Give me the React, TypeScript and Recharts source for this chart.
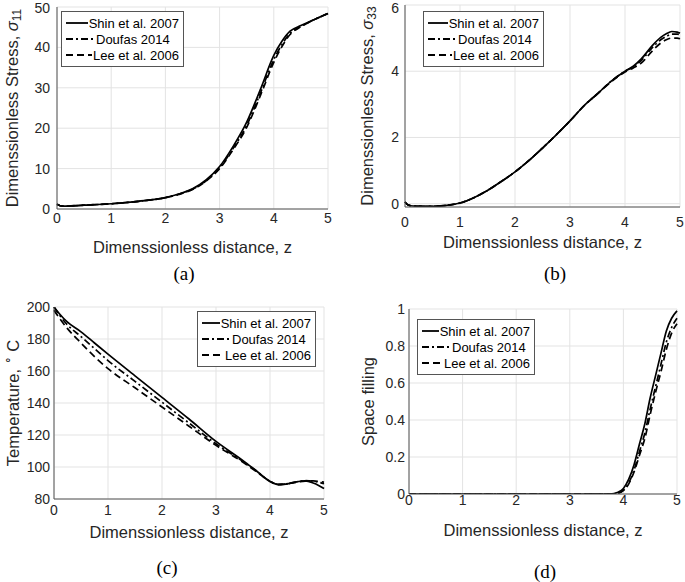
import React from 'react'
import { LineChart, Line, XAxis, YAxis, CartesianGrid, Legend } from 'recharts'

// (a) sigma_11 along the spinline
const zA = [0, 0.1, 0.5, 1, 1.5, 2, 2.25, 2.5, 2.75, 3, 3.25, 3.5, 3.75, 4, 4.15, 4.3, 4.5, 4.75, 5]
const shinA = [1.2, 0.7, 0.95, 1.3, 1.9, 2.8, 3.7, 5.0, 7.2, 10.5, 15.5, 21.5, 29.5, 38, 41.5, 44, 45.4, 46.9, 48.4]
const doufasA = [1.2, 0.7, 0.95, 1.3, 1.9, 2.8, 3.7, 4.9, 7.0, 10.2, 15.0, 20.7, 28.6, 37, 40.7, 43.5, 45.2, 46.9, 48.4]
const leeA = [1.2, 0.7, 0.95, 1.3, 1.9, 2.8, 3.6, 4.8, 6.9, 10.0, 14.7, 20.2, 28.0, 36.3, 40.2, 43.2, 45.1, 46.9, 48.4]

// (b) sigma_33
const zB = [0, 0.05, 0.15, 0.5, 0.75, 1, 1.25, 1.5, 1.75, 2, 2.25, 2.5, 2.75, 3, 3.25, 3.5, 3.75, 4, 4.15, 4.3, 4.5, 4.65, 4.75, 4.85, 4.95, 5]
const shinB = [0.05, -0.03, -0.07, -0.08, -0.05, 0.02, 0.18, 0.4, 0.67, 0.96, 1.3, 1.68, 2.08, 2.5, 2.95, 3.32, 3.7, 4.0, 4.15, 4.38, 4.78, 5.02, 5.13, 5.2, 5.18, 5.15]
const doufasB = [0.05, -0.03, -0.07, -0.08, -0.05, 0.02, 0.18, 0.4, 0.67, 0.96, 1.3, 1.68, 2.08, 2.5, 2.95, 3.32, 3.7, 4.0, 4.13, 4.33, 4.72, 4.95, 5.05, 5.12, 5.12, 5.1]
const leeB = [0.05, -0.03, -0.07, -0.08, -0.05, 0.02, 0.18, 0.4, 0.67, 0.96, 1.3, 1.68, 2.08, 2.5, 2.95, 3.32, 3.68, 3.98, 4.1, 4.25, 4.62, 4.85, 4.95, 5.0, 5.0, 4.98]

// (c) temperature
const zC = [0, 0.1, 0.25, 0.5, 0.75, 1, 1.5, 2, 2.5, 3, 3.5, 3.75, 4, 4.15, 4.3, 4.5, 4.65, 4.8, 4.9, 5]
const shinC = [200, 195.8, 190.5, 184.5, 177.5, 170.5, 157, 143.5, 130, 116, 104, 97.5, 91, 89, 89.3, 90.8, 91.3, 90, 88.5, 86.5]
const doufasC = [200, 195, 188.8, 181.5, 174, 166.5, 153.5, 140.5, 127.5, 114.5, 103.5, 97.5, 91, 89.2, 89.5, 90.8, 91.5, 91.2, 90.5, 89.5]
const leeC = [198, 193, 186.5, 177.5, 169, 161.5, 149.5, 137.5, 125.5, 113.5, 103, 97, 91, 89, 89.4, 90.5, 91.2, 91.3, 91, 90.5]

// (d) space filling
const zD = [0, 3.5, 3.75, 3.9, 4, 4.1, 4.2, 4.3, 4.4, 4.5, 4.6, 4.7, 4.8, 4.9, 5]
const shinD = [0, 0, 0, 0.01, 0.03, 0.08, 0.16, 0.27, 0.38, 0.52, 0.64, 0.76, 0.88, 0.95, 0.99]
const doufasD = [0, 0, 0, 0.005, 0.02, 0.06, 0.13, 0.23, 0.33, 0.46, 0.58, 0.7, 0.82, 0.9, 0.95]
const leeD = [0, 0, 0, 0.005, 0.02, 0.055, 0.12, 0.21, 0.3, 0.43, 0.55, 0.66, 0.78, 0.87, 0.92]

const xTicks = [0, 1, 2, 3, 4, 5]
const names = ['Shin et al. 2007', 'Doufas 2014', 'Lee et al. 2006']
const keys = ['shin', 'doufas', 'lee']
const dashes = [undefined, '7 3 2 3', '7 4']

const font = '"Liberation Sans", Arial, sans-serif'
const ink = '#262626'

const rows = (z: number[], a: number[], b: number[], c: number[]) =>
  z.map((v, i) => ({ z: v, shin: a[i], doufas: b[i], lee: c[i] }))

function LegendBox() {
  return (
    <div style={{ border: '1px solid #555', background: '#fff', padding: '3px 4px', fontFamily: font, fontSize: 13, color: '#000' }}>
      {names.map((n, i) => (
        <div key={n} style={{ display: 'flex', alignItems: 'center', height: 16 }}>
          <svg width={29} height={6} style={{ marginRight: 1 }}>
            <line x1={0} y1={3} x2={29} y2={3} stroke="#000" strokeWidth={1.8} strokeDasharray={dashes[i]} />
          </svg>
          <span style={{ whiteSpace: 'nowrap' }}>{n}</span>
        </div>
      ))}
    </div>
  )
}

type PanelProps = {
  left: number
  top: number
  width: number
  height: number
  margin: { top: number; right: number; bottom: number; left: number }
  yWidth: number
  data: any[]
  yDomain: [number, number]
  yTicks: number[]
  yLabel: React.ReactNode
  yLabelX: number
  xTickMargin: number
  yTickMargin: number
  xLabelDy: number
  legend: { left: number; top: number; width: number }
}

function Panel(p: PanelProps) {
  return (
    <div style={{ position: 'absolute', left: p.left, top: p.top }}>
      <LineChart width={p.width} height={p.height} data={p.data} margin={p.margin}>
        <CartesianGrid stroke="#e3e3e3" />
        <XAxis
          dataKey="z"
          type="number"
          domain={[0, 5]}
          ticks={xTicks}
          tickSize={0}
          tickMargin={p.xTickMargin}
          height={30}
          stroke="#555"
          tick={{ fill: ink, fontSize: 14, fontFamily: font }}
          label={{
            content: ({ viewBox }: any) => (
              <text x={viewBox.x + viewBox.width / 2} y={viewBox.y + p.xLabelDy} textAnchor="middle" dominantBaseline="central" fill={ink} fontSize={16.5} fontFamily={font}>
                Dimenssionless distance, z
              </text>
            ),
          }}
        />
        <XAxis xAxisId="top" orientation="top" type="number" domain={[0, 5]} ticks={xTicks} tick={false} tickSize={0} height={0} stroke="#555" />
        <YAxis
          type="number"
          domain={p.yDomain}
          ticks={p.yTicks}
          width={p.yWidth}
          tickSize={0}
          tickMargin={p.yTickMargin}
          stroke="#555"
          allowDataOverflow
          tick={{ fill: ink, fontSize: 14, fontFamily: font }}
          label={{
            content: ({ viewBox }: any) => {
              const cx = viewBox.x + p.yLabelX
              const cy = viewBox.y + viewBox.height / 2
              return (
                <text x={cx} y={cy} transform={`rotate(-90 ${cx} ${cy})`} textAnchor="middle" dominantBaseline="central" fill={ink} fontSize={16.5} fontFamily={font}>
                  {p.yLabel}
                </text>
              )
            },
          }}
        />
        <YAxis yAxisId="right" orientation="right" type="number" domain={p.yDomain} tick={false} tickSize={0} width={0} stroke="#555" />
        {keys.map((k, i) => (
          <Line
            key={k}
            dataKey={k}
            name={names[i]}
            type="monotone"
            stroke="#000"
            strokeWidth={1.7}
            strokeDasharray={dashes[i]}
            dot={false}
            isAnimationActive={false}
          />
        ))}
        <Legend
          layout="horizontal"
          verticalAlign="middle"
          align="center"
          width={p.legend.width}
          wrapperStyle={{ left: p.legend.left, top: p.legend.top, width: p.legend.width }}
          content={() => <LegendBox />}
        />
      </LineChart>
    </div>
  )
}

const capStyle: React.CSSProperties = {
  position: 'absolute',
  fontFamily: '"Liberation Serif", "Times New Roman", serif',
  fontSize: 19,
  color: '#000',
  transform: 'translate(-50%, -50%)',
}

export default function App() {
  return (
    <div style={{ position: 'absolute', left: 0, top: 0, width: 685, height: 582, background: '#fff' }}>
      <Panel
        left={0}
        top={0}
        width={340}
        height={290}
        margin={{ top: 7, right: 12, bottom: 51, left: 0 }}
        yWidth={57}
        data={rows(zA, shinA, doufasA, leeA)}
        yDomain={[0, 50]}
        yTicks={[0, 10, 20, 30, 40, 50]}
        yLabel={<>Dimenssionless Stress, <tspan fontStyle="italic">σ</tspan><tspan dy={5} fontSize={12}>11</tspan></>}
        yLabelX={12}
        xTickMargin={4}
        yTickMargin={7}
        xLabelDy={38}
        legend={{ left: 61, top: 11, width: 123 }}
      />
      <Panel
        left={340}
        top={0}
        width={345}
        height={290}
        margin={{ top: 5, right: 5, bottom: 53, left: 0 }}
        yWidth={65}
        data={rows(zB, shinB, doufasB, leeB)}
        yDomain={[-0.1, 6]}
        yTicks={[0, 2, 4, 6]}
        yLabel={<>Dimenssionless Stress, <tspan fontStyle="italic">σ</tspan><tspan dy={5} fontSize={12}>33</tspan></>}
        yLabelX={27}
        xTickMargin={10}
        yTickMargin={6}
        xLabelDy={35}
        legend={{ left: 83, top: 11, width: 121 }}
      />
      <Panel
        left={0}
        top={290}
        width={340}
        height={292}
        margin={{ top: 17, right: 16, bottom: 53, left: 0 }}
        yWidth={54}
        data={rows(zC, shinC, doufasC, leeC)}
        yDomain={[80, 200]}
        yTicks={[80, 100, 120, 140, 160, 180, 200]}
        yLabel={<>Temperature, <tspan dy={-5} fontSize={12}>∘</tspan><tspan dy={5}> C</tspan></>}
        yLabelX={13}
        xTickMargin={6}
        yTickMargin={4}
        xLabelDy={33}
        legend={{ left: 197, top: 21, width: 119 }}
      />
      <Panel
        left={340}
        top={290}
        width={345}
        height={292}
        margin={{ top: 19, right: 8, bottom: 58, left: 0 }}
        yWidth={69}
        data={rows(zD, shinD, doufasD, leeD)}
        yDomain={[0, 1]}
        yTicks={[0, 0.2, 0.4, 0.6, 0.8, 1]}
        yLabel="Space filling"
        yLabelX={28}
        xTickMargin={1}
        yTickMargin={4}
        xLabelDy={36}
        legend={{ left: 77, top: 29, width: 118 }}
      />
      <div style={{ ...capStyle, left: 184, top: 274 }}>(a)</div>
      <div style={{ ...capStyle, left: 555, top: 274 }}>(b)</div>
      <div style={{ ...capStyle, left: 167, top: 568 }}>(c)</div>
      <div style={{ ...capStyle, left: 545, top: 572 }}>(d)</div>
    </div>
  )
}
